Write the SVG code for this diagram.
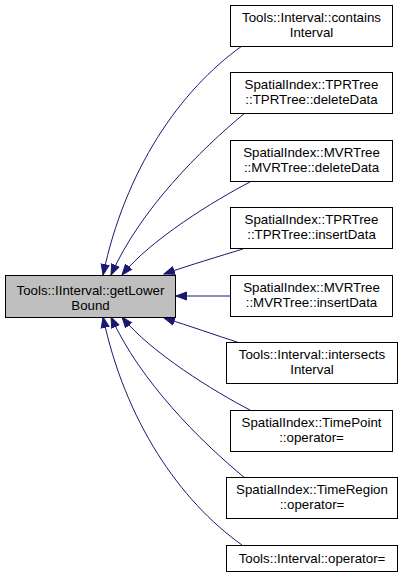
<svg xmlns="http://www.w3.org/2000/svg" width="403" height="581" viewBox="0 0 403 581">
<style>
.n rect{fill:#ffffff;stroke:#000000;stroke-width:1}
#main rect{fill:#bfbfbf}
text{font-family:"Liberation Sans",Arial,sans-serif;font-size:13.3px;fill:#000000;text-anchor:middle}
.e path{fill:none;stroke:#191970;stroke-width:1;marker-end:url(#ah)}
</style>
<defs>
<marker id="ah" markerUnits="userSpaceOnUse" markerWidth="12" markerHeight="10" refX="11" refY="4.5" orient="auto" viewBox="0 0 12 9">
<path d="M0.5,0.5 L11,4.5 L0.5,8.5 Z" fill="#191970" stroke="#191970" stroke-width="1"/>
</marker>
</defs>
<rect width="403" height="581" fill="#ffffff"/>
<g id="edges" class="e">
<path d="M242,46 C180,90 125,170 103,275"/>
<path d="M245,113 C200,150 140,210 111,275"/>
<path d="M250,182 C215,200 150,240 122,275"/>
<path d="M243,249 C220,256 190,265 164,274"/>
<path d="M230,296 L176,296"/>
<path d="M240,343 C215,335 190,326 164,318"/>
<path d="M250,410 C215,392 150,352 122,317"/>
<path d="M245,478 C200,441 140,381 111,317"/>
<path d="M242,545 C180,501 125,421 103,317"/>
</g>
<g id="main" class="n">
<rect x="5.5" y="275.5" width="170" height="42"/>
<text x="90.5" y="295">Tools::IInterval::getLower</text>
<text x="90.5" y="310">Bound</text>
</g>
<g id="n1" class="n">
<rect x="230.5" y="5.5" width="162" height="41"/>
<text x="311.5" y="22">Tools::Interval::contains</text>
<text x="311.5" y="37">Interval</text>
</g>
<g id="n2" class="n">
<rect x="230.5" y="72.5" width="162" height="41"/>
<text x="311.5" y="89">SpatialIndex::TPRTree</text>
<text x="311.5" y="104">::TPRTree::deleteData</text>
</g>
<g id="n3" class="n">
<rect x="230.5" y="140.5" width="162" height="41"/>
<text x="311.5" y="157">SpatialIndex::MVRTree</text>
<text x="311.5" y="172">::MVRTree::deleteData</text>
</g>
<g id="n4" class="n">
<rect x="230.5" y="207.5" width="162" height="41"/>
<text x="311.5" y="224">SpatialIndex::TPRTree</text>
<text x="311.5" y="239">::TPRTree::insertData</text>
</g>
<g id="n5" class="n">
<rect x="230.5" y="275.5" width="162" height="41"/>
<text x="311.5" y="292">SpatialIndex::MVRTree</text>
<text x="311.5" y="307">::MVRTree::insertData</text>
</g>
<g id="n6" class="n">
<rect x="226.5" y="342.5" width="171" height="41"/>
<text x="312" y="359">Tools::Interval::intersects</text>
<text x="312" y="374">Interval</text>
</g>
<g id="n7" class="n">
<rect x="230.5" y="410.5" width="162" height="41"/>
<text x="311.5" y="427">SpatialIndex::TimePoint</text>
<text x="311.5" y="442">::operator=</text>
</g>
<g id="n8" class="n">
<rect x="226.5" y="477.5" width="171" height="41"/>
<text x="312" y="494">SpatialIndex::TimeRegion</text>
<text x="312" y="509">::operator=</text>
</g>
<g id="n9" class="n">
<rect x="226.5" y="545.5" width="171" height="26"/>
<text x="312" y="563">Tools::Interval::operator=</text>
</g>
</svg>
